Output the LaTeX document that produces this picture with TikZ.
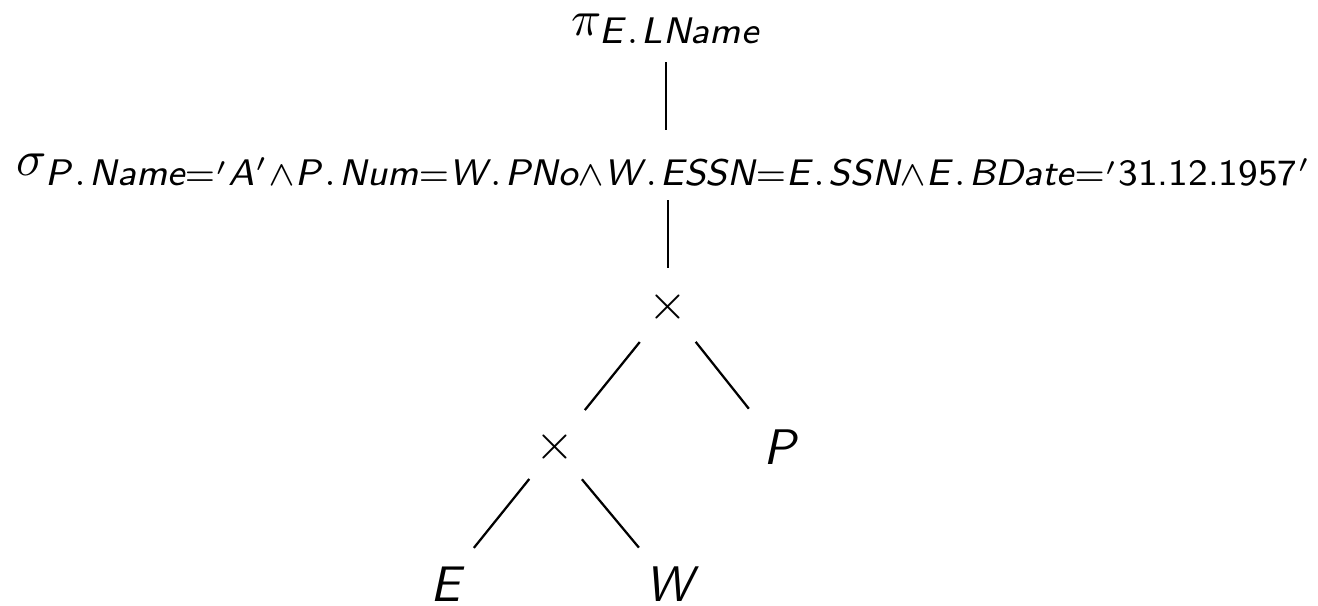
\documentclass[tikz,border=0pt]{standalone}
\usepackage{amsmath}
\newcommand\sv[1]{\text{\fontsize{7.4}{8}\selectfont\sffamily\slshape #1}}
\newcommand\su[1]{\text{\fontsize{7.4}{8}\selectfont\sffamily\upshape #1}}
\newcommand\lv[1]{\text{\sffamily\slshape #1}}
\newcommand\dt{\mkern1.5mu.\mkern1.5mu}
\begin{document}
\begin{tikzpicture}[x=0.2pt,y=-0.2pt,
  lbl/.style={inner sep=0pt, anchor=base},
  opnode/.style={inner sep=0pt, anchor=center},
  edge/.style={line width=0.45pt}]
\useasboundingbox (0,0) rectangle (1318,605);
\node[lbl] (pi) at (666,35) {$\pi_{\sv{E}\dt\sv{LName}}$};
\node[lbl, anchor=base west] (sg) at (16,175) {$\sigma_{\sv{P}\dt\sv{Name}={}'\sv{A}'\wedge\sv{P}\dt\sv{Num}=\sv{W}\dt\sv{PNo}\wedge\sv{W}\dt\sv{ESSN}=\sv{E}\dt\sv{SSN}\wedge\sv{E}\dt\sv{BDate}={}'\su{31.12.1957}'}$};
\node[opnode] (t1) at (668,307) {$\times$};
\node[opnode] (t2) at (555,447) {$\times$};
\node[lbl] (P) at (779,464) {$\lv{P}$};
\node[lbl] (E) at (445,601) {$\lv{E}$};
\node[lbl] (W) at (669,601) {$\lv{W}$};
\draw[edge, shorten <=5.4pt, shorten >=9pt] (pi.base) -- (pi.base |- sg.base);
\draw[edge, shorten <=5pt, shorten >=7.8pt] (t1.center |- sg.base) -- (t1.center);
\draw[edge, shorten <=9pt, shorten >=9.5pt] (t1.center) -- (t2.center);
\draw[edge, shorten <=8.9pt, shorten >=9.7pt] (t1.center) -- (P.center);
\draw[edge, shorten <=8.2pt, shorten >=9.2pt] (t2.center) -- (E.center);
\draw[edge, shorten <=8.4pt, shorten >=9.4pt] (t2.center) -- (W.center);
\end{tikzpicture}
\end{document}
